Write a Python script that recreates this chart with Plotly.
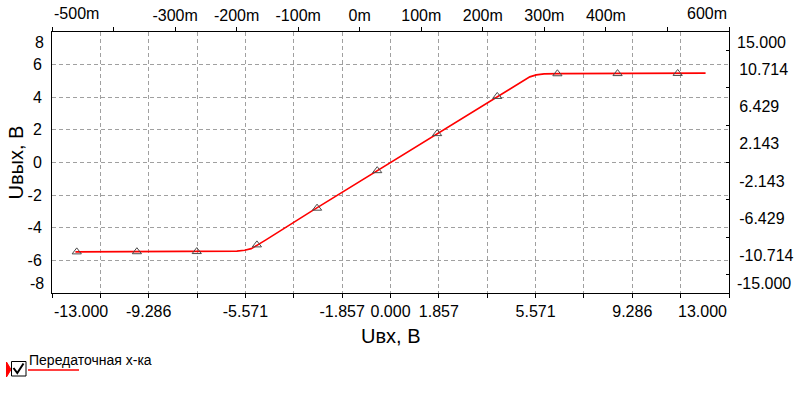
import plotly.graph_objects as go

# ---------------- data ----------------
# transfer characteristic (red line)
CURVE_X = [-12.1, -10.0, -8.0, -6.5, -5.9, -5.6, -5.35, -5.1, -4.8, -3.0, -1.0, 0.0,
           1.0, 3.0, 4.8, 5.1, 5.35, 5.6, 5.9, 6.5, 8.0, 10.0, 12.1]
CURVE_Y = [-5.48, -5.47, -5.46, -5.45, -5.43, -5.38, -5.28, -5.05, -4.76, -2.95, -0.98, 0.0,
           0.98, 2.95, 4.76, 5.05, 5.25, 5.37, 5.43, 5.45, 5.46, 5.47, 5.48]

# triangle markers on the curve
MARK_X = [-12.05, -9.74, -7.44, -5.13, -2.82, -0.51, 1.79, 4.10, 6.41, 8.72, 11.03]
MARK_Y = [-5.48, -5.47, -5.46, -5.05, -2.80, -0.50, 1.77, 4.05, 5.44, 5.45, 5.46]

# bottom axis (Uвх, В)
X_TICKS = [-13.0, -11.143, -9.286, -7.429, -5.571, -3.714, -1.857, 0.0,
           1.857, 3.714, 5.571, 7.429, 9.286, 11.143, 13.0]
X_TEXT = ["-13.000", "", "-9.286", "", "-5.571", "", "-1.857", "0.000",
          "1.857", "", "5.571", "", "9.286", "", "13.000"]

# top axis
X2_TICKS = [-0.5, -0.4, -0.3, -0.2, -0.1, 0.0, 0.1, 0.2, 0.3, 0.4, 0.5, 0.6]
X2_TEXT = ["-500m", "", "-300m", "-200m", "-100m", "0m", "100m", "200m", "300m", "400m", "", "600m"]

# left axis (Uвых, В)
Y_TICKS = [-8, -6, -4, -2, 0, 2, 4, 6, 8]
Y_TEXT = ["-8", "-6", "-4", "-2", "0", "2", "4", "6", "8"]

# right axis
Y2_TICKS = [15.0, 10.714, 6.429, 2.143, -2.143, -6.429, -10.714, -15.0]
Y2_TEXT = ["15.000", "10.714", "6.429", "2.143", "-2.143", "-6.429", "-10.714", "-15.000"]
Y2_MINOR = [12.857, 8.571, 4.286, 0.0, -4.286, -8.571, -12.857]

LEGEND_NAME = "Передаточная х-ка"
X_TITLE = "Uвх, В"
Y_TITLE = "Uвых, В"

# ---------------- style ----------------
FONT = "Liberation Sans, Arial, sans-serif"
W, H = 795, 393
ML, MR, MT, MB = 52, 66, 32, 100
PW, PH = W - ML - MR, H - MT - MB
GRID = dict(showgrid=True, gridcolor="#a0a0a0", griddash="4px,3px", gridwidth=1)
TICKFONT = dict(family=FONT, size=16, color="black")


def P(px, py):
    """pixel position on page -> paper coordinates (for legend decoration)"""
    return (px - ML) / PW, (H - MB - py) / PH


fig = go.Figure()
fig.add_trace(go.Scatter(x=CURVE_X, y=CURVE_Y, mode="lines", name=LEGEND_NAME,
                         line=dict(color="#ff0000", width=1.6), hoverinfo="skip"))
fig.add_trace(go.Scatter(x=MARK_X, y=MARK_Y, mode="markers", showlegend=False,
                         marker=dict(symbol="triangle-up-open", size=8,
                                     color="#4a4a4a", line=dict(width=1, color="#4a4a4a")),
                         hoverinfo="skip"))
fig.add_trace(go.Scatter(x=[], y=[], xaxis="x2", yaxis="y2", showlegend=False, hoverinfo="skip"))

def strip_edges(text):
    t = list(text)
    t[0] = ""
    t[-1] = ""
    return t

fig.update_layout(
    width=W, height=H, autosize=False,
    margin=dict(l=ML, r=MR, t=MT, b=MB, pad=0, autoexpand=False),
    plot_bgcolor="white", paper_bgcolor="white",
    showlegend=False,
    font=dict(family=FONT, color="black"),
    xaxis=dict(range=[X_TICKS[0], X_TICKS[-1]], tickmode="array", tickvals=X_TICKS,
               ticktext=strip_edges(X_TEXT), ticks="outside", ticklen=4, tickcolor="black",
               showline=True, linecolor="black", linewidth=1, zeroline=False,
               tickfont=TICKFONT, **GRID),
    yaxis=dict(range=[Y_TICKS[0], Y_TICKS[-1]], tickmode="array", tickvals=Y_TICKS,
               ticktext=strip_edges(Y_TEXT), ticks="", showline=True, linecolor="black",
               linewidth=1, zeroline=False, tickfont=TICKFONT, ticklabelstandoff=6, **GRID),
    xaxis2=dict(overlaying="x", side="top", anchor="y2", range=[X2_TICKS[0], X2_TICKS[-1]],
                tickmode="array", tickvals=X2_TICKS, ticktext=strip_edges(X2_TEXT),
                ticks="outside", ticklen=4, tickcolor="black", showline=True,
                linecolor="black", linewidth=1, showgrid=False, zeroline=False,
                tickfont=TICKFONT),
    yaxis2=dict(overlaying="y", side="right", anchor="x2", range=[Y2_TICKS[-1], Y2_TICKS[0]],
                tickmode="array", tickvals=Y2_TICKS, ticktext=strip_edges(Y2_TEXT),
                ticks="", showline=True, linecolor="black", linewidth=1,
                showgrid=False, zeroline=False, tickfont=TICKFONT, ticklabelstandoff=6,
                minor=dict(tickmode="array", tickvals=Y2_MINOR, ticks="inside",
                           ticklen=3, tickcolor="black")),
)

ann = []
# clamped edge tick labels
ann.append(dict(xref="x", yref="paper", x=X_TICKS[0], y=0, text=X_TEXT[0], xanchor="left",
                yanchor="top", yshift=-8, showarrow=False, font=TICKFONT))
ann.append(dict(xref="x", yref="paper", x=X_TICKS[-1], y=0, text=X_TEXT[-1], xanchor="right",
                yanchor="top", yshift=-8, showarrow=False, font=TICKFONT))
ann.append(dict(xref="x2", yref="paper", x=X2_TICKS[0], y=1, text=X2_TEXT[0], xanchor="left",
                yanchor="bottom", yshift=8, showarrow=False, font=TICKFONT))
ann.append(dict(xref="x2", yref="paper", x=X2_TICKS[-1], y=1, text=X2_TEXT[-1], xanchor="right",
                yanchor="bottom", yshift=8, showarrow=False, font=TICKFONT))
ann.append(dict(xref="paper", yref="y", x=0, y=Y_TICKS[-1], text=Y_TEXT[-1], xanchor="right",
                yanchor="middle", xshift=-6, yshift=-10, showarrow=False, font=TICKFONT))
ann.append(dict(xref="paper", yref="y", x=0, y=Y_TICKS[0], text=Y_TEXT[0], xanchor="right",
                yanchor="middle", xshift=-6, yshift=10, showarrow=False, font=TICKFONT))
ann.append(dict(xref="paper", yref="y2", x=1, y=Y2_TICKS[0], text=Y2_TEXT[0], xanchor="left",
                yanchor="middle", xshift=6, yshift=-10, showarrow=False, font=TICKFONT))
ann.append(dict(xref="paper", yref="y2", x=1, y=Y2_TICKS[-1], text=Y2_TEXT[-1], xanchor="left",
                yanchor="middle", xshift=6, yshift=10, showarrow=False, font=TICKFONT))
# axis titles
ann.append(dict(xref="paper", yref="paper", x=0.5, y=0, text=X_TITLE, xanchor="center",
                yanchor="middle", yshift=-43, showarrow=False,
                font=dict(family=FONT, size=20, color="black")))
ann.append(dict(xref="paper", yref="paper", x=0, y=0.5, text=Y_TITLE, xanchor="center",
                yanchor="middle", xshift=-37, textangle=-90, showarrow=False,
                font=dict(family=FONT, size=20, color="black")))
# legend text
lx, ly = P(27, 360)
ann.append(dict(xref="paper", yref="paper", x=lx, y=ly, text=LEGEND_NAME, xanchor="left",
                yanchor="middle", showarrow=False, font=dict(family=FONT, size=14, color="black")))
fig.update_layout(annotations=ann)

# legend decoration: red pointer, checkbox with tick, red line sample
def path(points, close=False):
    s = "M " + " L ".join(f"{P(x, y)[0]:.5f},{P(x, y)[1]:.5f}" for x, y in points)
    return s + (" Z" if close else "")

shapes = []
shapes.append(dict(type="path", xref="paper", yref="paper",
                   path=path([(6.5, 362), (11, 369.5), (6.5, 377)], close=True),
                   fillcolor="#ff0000", line=dict(color="#ff0000", width=1)))
x0, y0 = P(11.5, 361.5)
x1, y1 = P(26, 376)
shapes.append(dict(type="rect", xref="paper", yref="paper", x0=x0, y0=y0, x1=x1, y1=y1,
                   fillcolor="white", line=dict(color="black", width=1)))
shapes.append(dict(type="path", xref="paper", yref="paper",
                   path=path([(13.5, 368), (17.3, 373), (23.5, 363.5)]),
                   line=dict(color="black", width=2)))
a0, b0 = P(28, 370)
a1, b1 = P(79, 370)
shapes.append(dict(type="line", xref="paper", yref="paper", x0=a0, y0=b0, x1=a1, y1=b1,
                   line=dict(color="#ff0000", width=1.5)))
fig.update_layout(shapes=shapes)

fig.write_html("out.html")
